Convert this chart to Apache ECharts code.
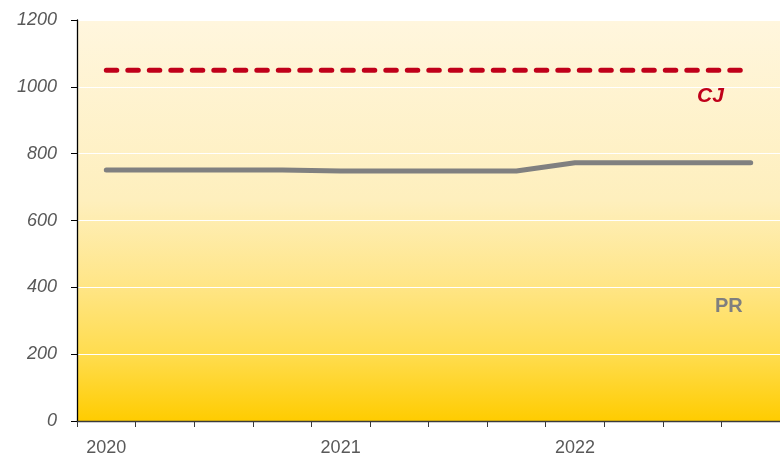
<!DOCTYPE html>
<html>
<head>
<meta charset="utf-8">
<script src="https://cdn.jsdelivr.net/npm/echarts@6/dist/echarts.min.js"></script>
<style>html,body{margin:0;padding:0;background:#fff}#c{width:780px;height:459px}</style>
</head>
<body>
<div id="c"></div>
<script>
const categories = ['2020 Q1','2020 Q2','2020 Q3','2020 Q4','2021 Q1','2021 Q2','2021 Q3','2021 Q4','2022 Q1','2022 Q2','2022 Q3','2022 Q4'];
const cjValues = [1050,1050,1050,1050,1050,1050,1050,1050,1050,1050,1050,1050];
const prValues = [751,751,751,751,748,748,748,748,773,773,773,773];
const yTicks = [0,200,400,600,800,1000,1200];

const chart = echarts.init(document.getElementById('c'), null, {renderer:'canvas'});
chart.setOption({
  animation:false,
  grid:{left:77, right:0, top:20, bottom:38, show:true, borderWidth:0,
    backgroundColor:{type:'linear',x:0,y:0,x2:0,y2:1,colorStops:[
      {offset:0,color:'#FFF6DE'},
      {offset:0.45,color:'#FEEFBD'},
      {offset:0.67,color:'#FFE584'},
      {offset:0.84,color:'#FFDC4C'},
      {offset:1,color:'#FFCC00'}]}},
  xAxis:{type:'category', data:categories, boundaryGap:true,
    axisLine:{lineStyle:{color:'#3a3a3a',width:1.3}},
    axisTick:{show:true, interval:0, length:6, lineStyle:{color:'#3a3a3a'}},
    axisLabel:{interval:(i)=>i%4===0, formatter:(v)=>v.slice(0,4), color:'#595959',
      fontFamily:'Liberation Sans', fontSize:18, margin:18},
    splitLine:{show:false}},
  yAxis:{type:'value', min:yTicks[0], max:yTicks[yTicks.length-1], interval:200,
    axisLine:{show:true, lineStyle:{color:'#000',width:1.3}},
    axisTick:{show:true, length:6, lineStyle:{color:'#000'}},
    axisLabel:{color:'#595959', fontStyle:'italic', fontFamily:'Liberation Sans', fontSize:18, margin:20,
      formatter:(v)=>String(v)},
    splitLine:{show:true, lineStyle:{color:'#ffffff', width:1.2}}},
  series:[
    {name:'CJ', type:'line', data:cjValues, symbol:'none',
      lineStyle:{color:'#C0001A', width:5, type:[10.5,11], cap:'round'}},
    {name:'PR', type:'line', data:prValues, symbol:'none',
      lineStyle:{color:'#808080', width:5, cap:'round', join:'round'}}
  ],
  graphic:[
    {type:'text', left:697, top:86, style:{text:'CJ', fill:'#C0001A', font:'bold italic 21px "Comic Sans MS", "Liberation Sans"'}},
    {type:'text', left:715, top:296, style:{text:'PR', fill:'#7F7F7F', font:'bold 20px "Comic Sans MS", "Liberation Sans"'}}
  ]
});
</script>
</body>
</html>
